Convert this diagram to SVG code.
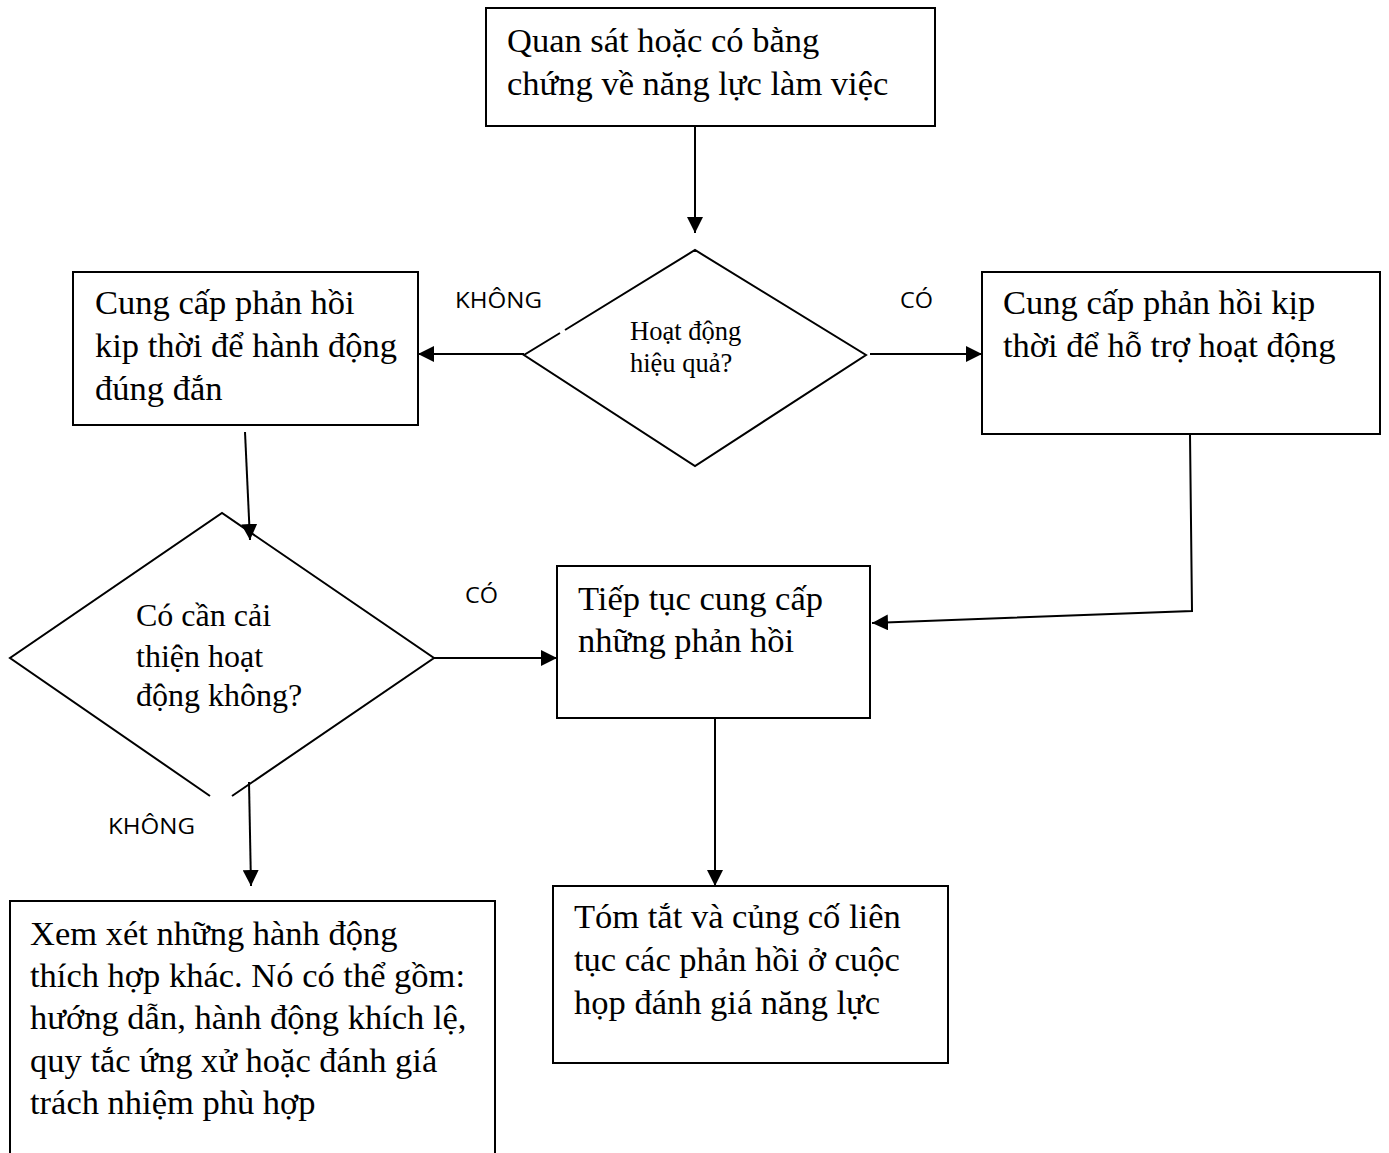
<svg xmlns="http://www.w3.org/2000/svg" width="1389" height="1153" viewBox="0 0 1389 1153">
<style>
.box{fill:#fff;stroke:#000;stroke-width:2}
.dia{fill:none;stroke:#000;stroke-width:2}
.t{font-family:"Liberation Serif","Times New Roman",serif;font-size:34.5px;fill:#000}
.t2{font-family:"Liberation Serif","Times New Roman",serif;font-size:32px;fill:#000}
.td{font-family:"Liberation Serif","Times New Roman",serif;font-size:26.5px;fill:#000}
.lbl{font-family:"Open Sans","Liberation Sans",sans-serif;font-size:21px;fill:#000}
.c{fill:none;stroke:#000;stroke-width:2}
</style>
<defs>
<marker id="ah" viewBox="0 0 16 16" refX="16" refY="8" markerWidth="16" markerHeight="16" markerUnits="userSpaceOnUse" orient="auto">
<path d="M0,0 L16,8 L0,16 Z" fill="#000"/>
</marker>
</defs>
<rect width="1389" height="1153" fill="#fff"/>
<g id="n1">
<rect class="box" x="486" y="8" width="449" height="118"/>
<text class="t" x="507" y="52">Quan sát hoặc có bằng</text>
<text class="t" x="507" y="95">chứng về năng lực làm việc</text>
</g>
<g id="d1">
<path class="dia" d="M560,333 L524,355 L695,466 L866,355 L695,250 L565,330"/>
<text class="td" x="630" y="340">Hoạt động</text>
<text class="td" x="630" y="372">hiệu quả?</text>
</g>
<g id="n2">
<rect class="box" x="73" y="272" width="345" height="153"/>
<text class="t" x="95" y="314">Cung cấp phản hồi</text>
<text class="t" x="95" y="357">kip thời để hành động</text>
<text class="t" x="95" y="400">đúng đắn</text>
</g>
<g id="n3">
<rect class="box" x="982" y="272" width="398" height="162"/>
<text class="t" x="1003" y="314">Cung cấp phản hồi kịp</text>
<text class="t" x="1003" y="357">thời để hỗ trợ hoạt động</text>
</g>
<g id="d2">
<path class="dia" d="M210,796 L10,658 L222,513 L434,658 L232,796"/>
<text class="t2" x="136" y="626">Có cần cải</text>
<text class="t2" x="136" y="667">thiện hoạt</text>
<text class="t2" x="136" y="706">động không?</text>
</g>
<g id="n4">
<rect class="box" x="557" y="566" width="313" height="152"/>
<text class="t" x="578" y="610">Tiếp tục cung cấp</text>
<text class="t" x="578" y="652">những phản hồi</text>
</g>
<g id="n5">
<rect class="box" x="10" y="901" width="485" height="260"/>
<text class="t" x="30" y="945">Xem xét những hành động</text>
<text class="t" x="30" y="987">thích hợp khác. Nó có thể gồm:</text>
<text class="t" x="30" y="1029">hướng dẫn, hành động khích lệ,</text>
<text class="t" x="30" y="1072">quy tắc ứng xử hoặc đánh giá</text>
<text class="t" x="30" y="1114">trách nhiệm phù hợp</text>
</g>
<g id="n6">
<rect class="box" x="553" y="886" width="395" height="177"/>
<text class="t" x="574" y="928">Tóm tắt và củng cố liên</text>
<text class="t" x="574" y="971">tục các phản hồi ở cuộc</text>
<text class="t" x="574" y="1014">họp đánh giá năng lực</text>
</g>
<g id="connectors">
<path class="c" d="M695,126 L695,233" marker-end="url(#ah)"/>
<path class="c" d="M524,354 L418,354" marker-end="url(#ah)"/>
<path class="c" d="M870,354 L982,354" marker-end="url(#ah)"/>
<path class="c" d="M245,432 L250,540" marker-end="url(#ah)"/>
<path class="c" d="M434,658 L557,658" marker-end="url(#ah)"/>
<path class="c" d="M249,782 L251,886" marker-end="url(#ah)"/>
<path class="c" d="M1190,434 L1192,611 L872,623" marker-end="url(#ah)"/>
<path class="c" d="M715,718 L715,886" marker-end="url(#ah)"/>
<text class="lbl" x="455" y="308" textLength="87" lengthAdjust="spacingAndGlyphs">KHÔNG</text>
<text class="lbl" x="900" y="308" textLength="33" lengthAdjust="spacingAndGlyphs">CÓ</text>
<text class="lbl" x="465" y="603" textLength="33" lengthAdjust="spacingAndGlyphs">CÓ</text>
<text class="lbl" x="108" y="834" textLength="87" lengthAdjust="spacingAndGlyphs">KHÔNG</text>
</g>
</svg>
